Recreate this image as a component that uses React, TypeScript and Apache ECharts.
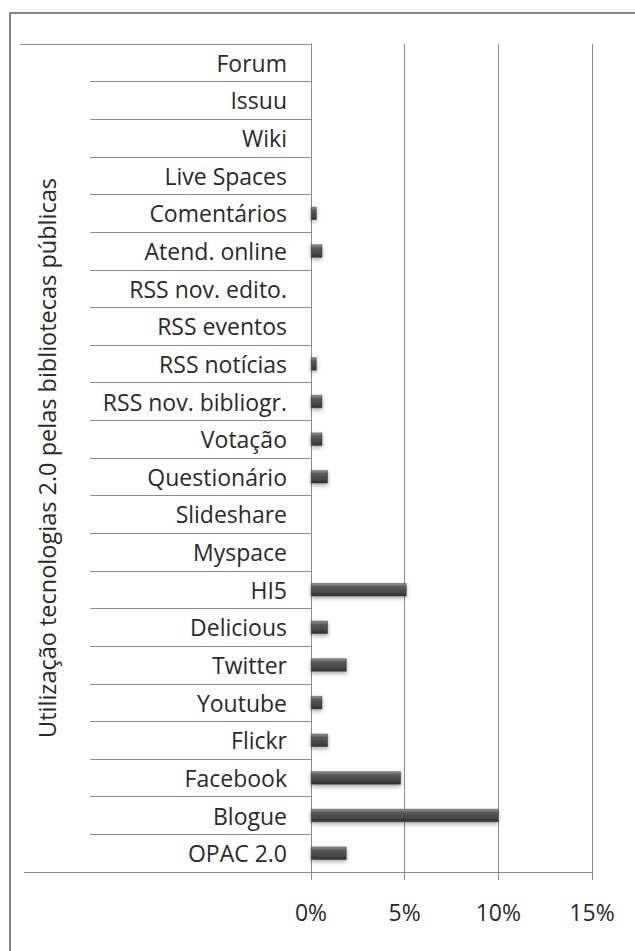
import React, { useEffect, useRef } from "react";
import * as echarts from "echarts";

const categories = [
  "OPAC 2.0", "Blogue", "Facebook", "Flickr", "Youtube", "Twitter", "Delicious", "HI5",
  "Myspace", "Slideshare", "Questionário", "Votação", "RSS nov. bibliogr.", "RSS notícias",
  "RSS eventos", "RSS nov. edito.", "Atend. online", "Comentários", "Live Spaces", "Wiki",
  "Issuu", "Forum",
];
const values = [1.9, 10, 4.8, 0.9, 0.6, 1.9, 0.9, 5.1, 0, 0, 0.9, 0.6, 0.6, 0.3, 0, 0, 0.6, 0.3, 0, 0, 0, 0];
const tickValues = [0, 5, 10, 15];
const axisTitle = "Utilização tecnologias 2.0 pelas bibliotecas públicas";

export default function App() {
  const ref = useRef<HTMLDivElement>(null);
  useEffect(() => {
    if (!ref.current) return;
    const chart = echarts.init(ref.current, null, { renderer: "svg" });
    const font = "'Open Sans', 'Noto Sans', sans-serif";
    const gridLeft = 311, gridTop = 44, gridRight = 43, gridBottom = 79;
    const W = 635, H = 951;
    chart.setOption({
      animation: false,
      backgroundColor: "#ffffff",
      grid: { left: gridLeft, right: gridRight, top: gridTop, bottom: gridBottom, containLabel: false },
      xAxis: {
        type: "value",
        min: tickValues[0],
        max: tickValues[tickValues.length - 1],
        interval: 5,
        axisLine: { show: true, lineStyle: { color: "#8c8c8c", width: 1 } },
        axisTick: { show: true, length: 8, lineStyle: { color: "#8c8c8c" } },
        splitLine: { show: true, lineStyle: { color: "#8c8c8c", width: 1 } },
        axisLabel: { formatter: (v: number) => v + "%", color: "#2a2a2a", fontSize: 23, fontFamily: font, margin: 28 },
      },
      yAxis: {
        type: "category",
        data: categories,
        name: axisTitle,
        nameLocation: "middle",
        nameGap: 252,
        nameRotate: 90,
        nameTextStyle: { color: "#2a2a2a", fontSize: 23.5, fontFamily: font },
        axisLine: { show: true, lineStyle: { color: "#8c8c8c", width: 1 } },
        axisTick: { show: true, inside: false, length: 221, lineStyle: { color: "#8c8c8c" } },
        axisLabel: { color: "#2a2a2a", fontSize: 23, fontFamily: font, margin: 24 },
        splitLine: { show: false },
      },
      series: [
        {
          type: "bar",
          data: values,
          barWidth: 13,
          itemStyle: {
            color: new echarts.graphic.LinearGradient(0, 0, 0, 1, [
              { offset: 0, color: "#9a9a9a" },
              { offset: 0.25, color: "#5a5a5a" },
              { offset: 0.7, color: "#474747" },
              { offset: 1, color: "#2e2e2e" },
            ]),
            borderColor: "#3a3a3a",
            borderWidth: 0.5,
            shadowColor: "rgba(0,0,0,0.35)",
            shadowBlur: 4,
            shadowOffsetY: 2,
          },
        },
      ],
      graphic: [
        {
          type: "rect",
          shape: { x: 10, y: 13, width: W + 20, height: H + 20 },
          style: { fill: "none", stroke: "#858585", lineWidth: 2 },
          silent: true,
        },
        {
          type: "line",
          shape: { x1: 20, y1: gridTop + 0.5, x2: gridLeft - 221, y2: gridTop + 0.5 },
          style: { stroke: "#8c8c8c", lineWidth: 1 },
          silent: true,
        },
        {
          type: "line",
          shape: { x1: 24, y1: H - gridBottom + 0.5, x2: gridLeft - 221, y2: H - gridBottom + 0.5 },
          style: { stroke: "#8c8c8c", lineWidth: 1 },
          silent: true,
        },
      ],
    });
    return () => chart.dispose();
  }, []);
  return (
    <div
      ref={ref}
      style={{ position: "absolute", left: 0, top: 0, width: 635, height: 951 }}
    />
  );
}
